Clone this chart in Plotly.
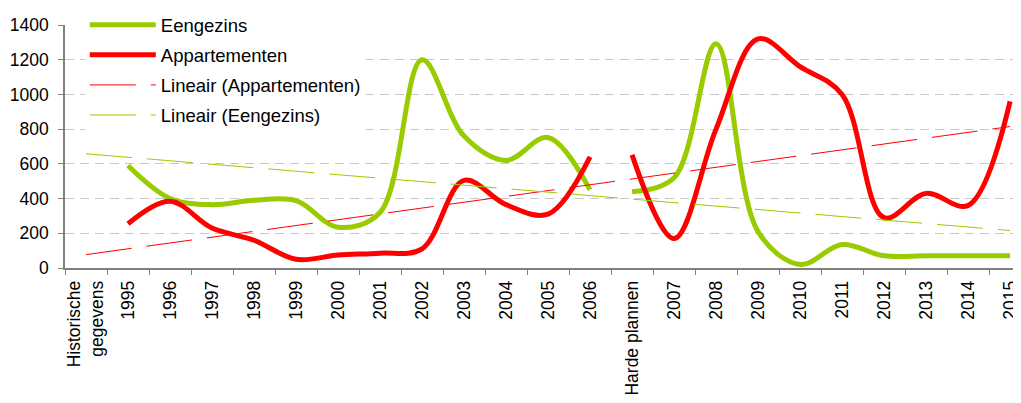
import plotly.graph_objects as go

categories = ["Historische<br>gegevens", "1995", "1996", "1997", "1998", "1999", "2000",
              "2001", "2002", "2003", "2004", "2005", "2006", "Harde plannen",
              "2007", "2008", "2009", "2010", "2011", "2012", "2013", "2014", "2015"]

# historical part (1995-2006)
hist_cats = categories[1:13]
eengezins_hist = [590, 400, 365, 390, 388, 235, 320, 1200, 760, 620, 752, 450]
appart_hist = [255, 385, 230, 160, 50, 75, 85, 110, 505, 365, 310, 640]

# planned part (Harde plannen - 2015)
plan_cats = categories[13:]
eengezins_plan = [440, 520, 1292, 210, 20, 135, 70, 70, 70, 70]
appart_plan = [652, 170, 800, 1320, 1160, 1000, 290, 430, 360, 960]

# linear trend lines, read at first and last category
trend_cats = [categories[0], categories[-1]]
trend_appart = [77, 815]
trend_eengezins = [658, 216]

GREEN = "#99CC00"
RED = "#FF0000"
FONT = "Liberation Sans, Arial, sans-serif"

fig = go.Figure()

fig.add_trace(go.Scatter(x=hist_cats, y=eengezins_hist, mode="lines", name="Eengezins",
                         line=dict(color=GREEN, width=5, shape="spline", smoothing=1),
                         legendgroup="g1", legendrank=1))
fig.add_trace(go.Scatter(x=plan_cats, y=eengezins_plan, mode="lines", name="Eengezins",
                         line=dict(color=GREEN, width=5, shape="spline", smoothing=1),
                         legendgroup="g1", showlegend=False))
fig.add_trace(go.Scatter(x=hist_cats, y=appart_hist, mode="lines", name="Appartementen",
                         line=dict(color=RED, width=5, shape="spline", smoothing=1),
                         legendgroup="g2", legendrank=2))
fig.add_trace(go.Scatter(x=plan_cats, y=appart_plan, mode="lines", name="Appartementen",
                         line=dict(color=RED, width=5, shape="spline", smoothing=1),
                         legendgroup="g2", showlegend=False))
fig.add_trace(go.Scatter(x=trend_cats, y=trend_appart, mode="lines", name="Lineair (Appartementen)",
                         line=dict(color=RED, width=1, dash="46px,15px"),
                         legendgroup="g3", legendrank=3))
fig.add_trace(go.Scatter(x=trend_cats, y=trend_eengezins, mode="lines", name="Lineair (Eengezins)",
                         line=dict(color=GREEN, width=1, dash="46px,15px"),
                         legendgroup="g4", legendrank=4))

# the page body has an 8px default margin, so the figure is offset by 8px
fig.update_layout(
    width=1013, height=395,
    margin=dict(l=57, r=0, t=17, b=135, autoexpand=False),
    paper_bgcolor="white", plot_bgcolor="white",
    font=dict(family=FONT, size=17.5, color="black"),
    showlegend=True,
    legend=dict(x=0.0207, y=1.077, xanchor="left", yanchor="top",
                bgcolor="white", borderwidth=0, itemwidth=66,
                tracegroupgap=3, font=dict(size=18.5, color="black"),
                traceorder="grouped"),
    xaxis=dict(type="category", categoryorder="array", categoryarray=categories,
               range=[-0.5, 22.26], tickson="boundaries", ticks="outside", ticklen=5,
               tickcolor="#808080", showline=True, linecolor="#808080", linewidth=1.5,
               showgrid=False, tickangle=-90, tickfont=dict(size=17.5, color="black"),
               ticklabelstandoff=4, automargin=False, fixedrange=True),
    yaxis=dict(range=[0, 1400], tickvals=[0, 200, 400, 600, 800, 1000, 1200, 1400],
               ticks="outside", ticklen=5, tickcolor="#808080", showline=True,
               linecolor="#808080", linewidth=1.5, showgrid=True, gridcolor="#C8C8C8",
               griddash="9px,6px", gridwidth=1, zeroline=False,
               tickfont=dict(size=17.5, color="black"), ticklabelstandoff=6,
               automargin=False, fixedrange=True),
)

fig.write_html("out.html")
